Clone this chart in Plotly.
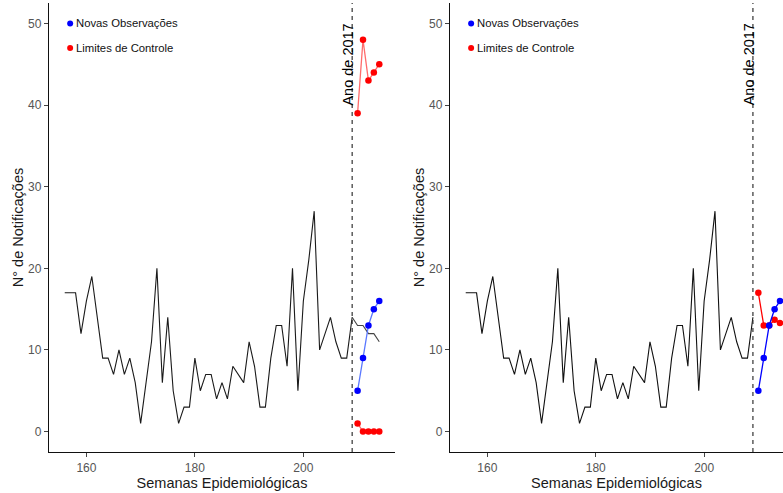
import plotly.graph_objects as go

# Weekly notification counts (epidemiological weeks 156-209)
weeks_hist = list(range(156, 210))
counts_hist = [17, 17, 17, 12, 16, 19, 14, 9, 9, 7, 10, 7, 9, 6, 1, 6, 11, 20, 6, 14,
               5, 1, 3, 3, 9, 5, 7, 7, 4, 6, 4, 8, 7, 6, 11, 8, 3, 3, 9, 13,
               13, 8, 20, 5, 16, 21, 27, 10, 12, 14, 11, 9, 9, 14]

# Left panel: fitted continuation after week 209
weeks_fit = [209, 210, 211, 212, 213, 214]
counts_fit = [14, 13, 13, 12, 12, 11]

# New observations (2017)
weeks_new = [210, 211, 212, 213, 214]
counts_new = [5, 9, 13, 15, 16]

# Control limits, left panel
upper_left = [39, 48, 43, 44, 45]
lower_left = [1, 0, 0, 0, 0]

# Control limit, right panel
limit_right = [17, 13, 13, 13.7, 13.3]

vline_week = 209
legend_labels = ["Novas Observações", "Limites de Controle"]
legend_y = [50, 47]
legend_x = 157

FONT = "Liberation Sans, Arial, sans-serif"
BLUE = "#0000FF"
RED = "#FF0000"

fig = go.Figure()

# ---- left panel ----
fig.add_trace(go.Scatter(x=weeks_hist, y=counts_hist, mode="lines",
                         line=dict(color="#1a1a1a", width=1.1),
                         xaxis="x", yaxis="y", showlegend=False))
fig.add_trace(go.Scatter(x=weeks_fit, y=counts_fit, mode="lines",
                         line=dict(color="#444444", width=1.1),
                         xaxis="x", yaxis="y", showlegend=False))
fig.add_trace(go.Scatter(x=weeks_new, y=counts_new, mode="lines+markers",
                         line=dict(color="#5a78ff", width=1.3),
                         marker=dict(color=BLUE, size=6.5),
                         xaxis="x", yaxis="y", showlegend=False))
for lim in (upper_left, lower_left):
    fig.add_trace(go.Scatter(x=weeks_new, y=lim, mode="lines+markers",
                             line=dict(color="#ff6b6b", width=1.3),
                             marker=dict(color=RED, size=6.5),
                             xaxis="x", yaxis="y", showlegend=False))

# ---- right panel ----
fig.add_trace(go.Scatter(x=weeks_hist, y=counts_hist, mode="lines",
                         line=dict(color="#111111", width=1.1),
                         xaxis="x2", yaxis="y2", showlegend=False))
fig.add_trace(go.Scatter(x=weeks_new, y=limit_right, mode="lines+markers",
                         line=dict(color=RED, width=1.3),
                         marker=dict(color=RED, size=6.5),
                         xaxis="x2", yaxis="y2", showlegend=False))
fig.add_trace(go.Scatter(x=weeks_new, y=counts_new, mode="lines+markers",
                         line=dict(color=BLUE, width=1.3),
                         marker=dict(color=BLUE, size=6.5),
                         xaxis="x2", yaxis="y2", showlegend=False))

# in-plot legend markers and labels
for xa, ya in (("x", "y"), ("x2", "y2")):
    fig.add_trace(go.Scatter(x=[legend_x, legend_x], y=legend_y, mode="markers",
                             marker=dict(color=[BLUE, RED], size=6),
                             xaxis=xa, yaxis=ya, showlegend=False, cliponaxis=False))
    for lab, ly in zip(legend_labels, legend_y):
        fig.add_annotation(x=legend_x, y=ly, xref=xa, yref=ya, text=lab,
                           showarrow=False, xanchor="left", xshift=4,
                           font=dict(family=FONT, size=11.3, color="#111111"))
    fig.add_shape(type="line", x0=vline_week, x1=vline_week, y0=0, y1=1,
                  xref=xa, yref=ya + " domain",
                  line=dict(color="#333333", width=1.2, dash="4px,4px"))
    fig.add_annotation(x=208.3, y=45, xref=xa, yref=ya, text="Ano de 2017",
                       textangle=-90, showarrow=False,
                       font=dict(family=FONT, size=14.5, color="#000000"))

tick_font = dict(family=FONT, size=12, color="#555555")
title_font = dict(family=FONT, size=14.5, color="#1a1a1a")
xcommon = dict(tickvals=[160, 180, 200], ticks="outside", ticklen=4, tickcolor="#444",
               showgrid=False, zeroline=False, showline=True, linecolor="#111",
               linewidth=1.3, tickfont=tick_font,
               title=dict(text="Semanas Epidemiológicas", font=title_font, standoff=3))
ycommon = dict(range=[-2.5, 52.5], tickvals=[0, 10, 20, 30, 40, 50], ticks="outside",
               ticklen=4, tickcolor="#444", showgrid=False, zeroline=False,
               showline=True, linecolor="#111", linewidth=1.3, tickfont=tick_font,
               title=dict(text="N° de Notificações", font=title_font, standoff=1))

W, H = 783, 493
fig.update_layout(
    width=W, height=H, margin=dict(l=0, r=0, t=0, b=0),
    paper_bgcolor="white", plot_bgcolor="white",
    xaxis=dict(domain=[49 / W, 395 / W], range=[153.1, 216.9], anchor="y", **xcommon),
    yaxis=dict(domain=[41 / H, 490 / H], anchor="x", **ycommon),
    xaxis2=dict(domain=[450 / W, 1.0], range=[153.1, 214.55], anchor="y2", **xcommon),
    yaxis2=dict(domain=[41 / H, 490 / H], anchor="x2", **ycommon),
)

fig.write_html("out.html")
